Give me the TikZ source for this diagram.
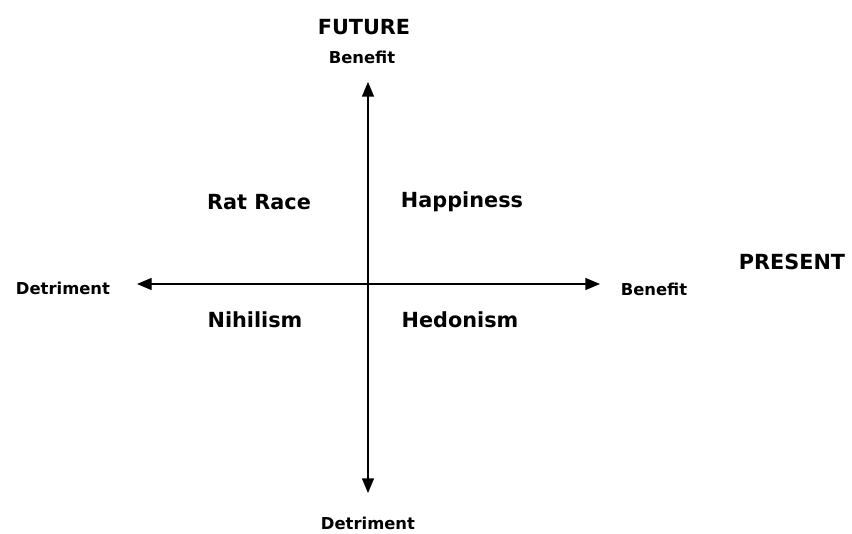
\documentclass[tikz,border=0pt]{standalone}
\usepackage{fontspec}
\setmainfont{DejaVu Sans}
\usetikzlibrary{arrows.meta}

\begin{document}
\begin{tikzpicture}[
    x=0.75pt, y=0.75pt,
    axis/.style={{Triangle[length=11pt,width=9pt]}-{Triangle[length=11pt,width=9pt]}, line width=1pt},
    quad/.style={font=\bfseries\fontsize{15.6}{18}\selectfont},
    tick/.style={font=\bfseries\fontsize{12.3}{14}\selectfont},
    dimlabel/.style={font=\bfseries\fontsize{15.6}{18}\selectfont}
  ]
  \useasboundingbox (0,0) rectangle (852,533);

  % axis end points
  \coordinate (top) at (368,451);
  \coordinate (bottom) at (368,40);
  \coordinate (left) at (137,249);
  \coordinate (right) at (600,249);

  % axes
  \draw[axis] (bottom) -- (top);
  \draw[axis] (left) -- (right);

  % axis ends
  \node[tick] (futben) at (362,476) {Benefit};
  \node[tick] (futdet) at (368,10) {Detriment};
  \node[tick] (preben) at (654,244) {Benefit};
  \node[tick] (predet) at (63,245) {Detriment};

  % dimensions
  \node[dimlabel] (future) at (364,506) {FUTURE};
  \node[dimlabel] (present) at (792,271) {PRESENT};

  % quadrants
  \node[quad] (ratrace) at (259,331) {Rat Race};
  \node[quad] (happy) at (462,331) {Happiness};
  \node[quad] (nihil) at (255,213) {Nihilism};
  \node[quad] (hedon) at (460,213) {Hedonism};
\end{tikzpicture}
\end{document}
